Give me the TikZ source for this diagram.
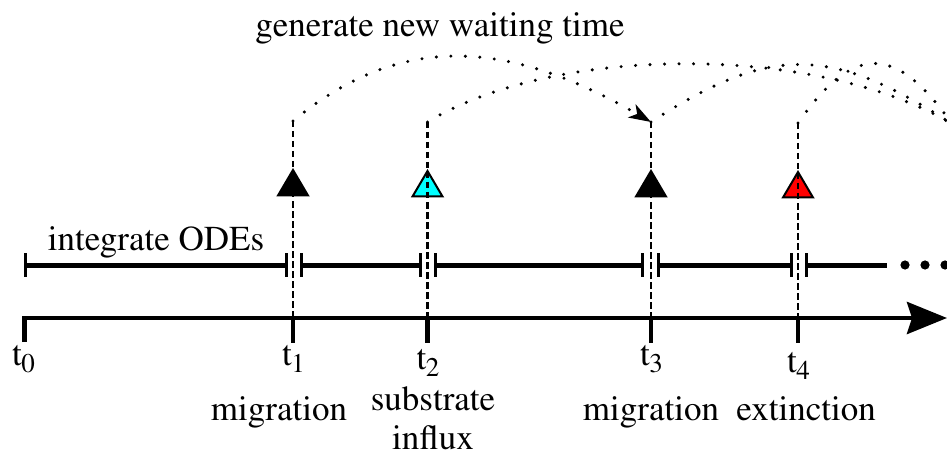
\documentclass[tikz,border=0pt]{standalone}
\usepackage[T1]{fontenc}
\usepackage{mathptmx}
\usetikzlibrary{arrows.meta}
\definecolor{evcyan}{RGB}{0,255,255}
\definecolor{evred}{RGB}{255,0,0}
\tikzset{
  axisline/.style={line width=4.5pt, line join=miter},
  tickmark/.style={line width=4.5pt},
  seg/.style={line width=5pt},
  segbar/.style={line width=3pt},
  vdash/.style={line width=2.8pt, dash pattern=on 6.5pt off 3.5pt},
  arcdot/.style={line width=3.4pt, line cap=round, dash pattern=on 0pt off 14.5pt},
  eventtri/.style={draw=black, line width=2pt, line join=miter},
  lbl/.style={font=\rmfamily\fontsize{35pt}{40pt}\selectfont, inner sep=0pt},
  tlbl/.style={lbl, anchor=base west},
}
\newcommand{\tsub}[1]{t\kern-0.5pt\raisebox{-7.5pt}{\fontsize{27pt}{30pt}\selectfont #1}}
\begin{document}
\begin{tikzpicture}[x=1pt,y=-1pt]
\useasboundingbox (0,0) rectangle (947,457);
\clip (0,0) rectangle (947,457);

% event coordinates on the axis and tops of the dashed lines
\coordinate (e0) at (24.5,318);
\coordinate (e1) at (293,318);
\coordinate (e2) at (427.5,318);
\coordinate (e3) at (651,318);
\coordinate (e4) at (798,318);
\coordinate (p1) at (293,121);
\coordinate (p2) at (427.5,122);
\coordinate (p3) at (651,122);
\coordinate (p4) at (798,123);
\coordinate (f5) at (952,124);
\coordinate (axend) at (947,318);

% title
\node[lbl, anchor=base] (title) at (440,37) {generate new waiting time};
\node[lbl, anchor=base] (ode) at (156,250) {integrate ODEs};

% integration segments
\foreach \a/\b in {25/286, 301/420, 435/642, 658/791} {
  \draw[seg] (\a,265) -- (\b,265);
  \draw[segbar] (\a,253) -- (\a,277);
  \draw[segbar] (\b,253) -- (\b,277);
}
\draw[seg] (806,265) -- (887,265);
\draw[segbar] (806,253) -- (806,277);
\foreach \x in {905,925,945} \fill (\x,265) circle (4.6pt);

% time axis
\draw[axisline, -{Stealth[length=40pt,width=32pt,inset=5pt]}] (24.5,342) -- (e0) -- (axend);
\foreach \n in {1,2,3,4} \draw[tickmark] (e\n) -- ++(0,25);

% event triangles
\foreach \n/\c in {1/black, 2/evcyan, 3/black, 4/evred} {
  \path (p\n) ++(0,49) coordinate (apex\n);
  \filldraw[eventtri, fill=\c] (apex\n) -- ++(-15,25.5) -- ++(30,0) -- cycle;
}

% dashed verticals
\foreach \n in {1,2,3,4} \draw[vdash] (p\n) -- (e\n);

% waiting-time arcs
\draw[arcdot, -{Stealth[length=22pt,width=15pt,inset=6pt]}] (p1) .. controls (403,30) and (511,41) .. (p3);
\draw[arcdot] (p2) .. controls (558,43) and (821,45) .. (f5);
\draw[arcdot] (p3) .. controls (771,44) and (832,46) .. (f5);
\draw[arcdot] (p4) .. controls (854,43) and (896,44) .. (f5);

% time labels
\node[tlbl] (t0) at (12,365) {\tsub{0}};
\node[tlbl] (t1) at (282,365) {\tsub{1}};
\node[tlbl] (t2) at (416.5,369) {\tsub{2}};
\node[tlbl] (t3) at (640,365) {\tsub{3}};
\node[tlbl] (t4) at (787,372) {\tsub{4}};

% event labels
\node[lbl, anchor=base] (l1) at (279,420) {migration};
\node[lbl, anchor=base] (l2a) at (433,410) {substrate};
\node[lbl, anchor=base] (l2b) at (433,449) {influx};
\node[lbl, anchor=base] (l3) at (651,420) {migration};
\node[lbl, anchor=base] (l4) at (806,420) {extinction};
\end{tikzpicture}
\end{document}
